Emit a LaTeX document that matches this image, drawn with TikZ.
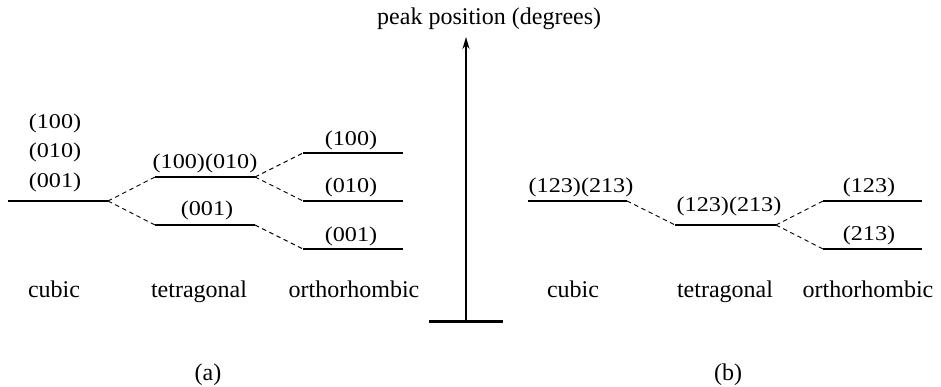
\documentclass[tikz,border=0pt]{standalone}
\usepackage{fontspec}
\setmainfont{Liberation Serif}
\newfontfamily\idxfont[FakeStretch=1.15]{Liberation Serif}
\usetikzlibrary{positioning, arrows.meta}
\tikzset{
  lvl/.style       = {line width=1.4pt},
  splitline/.style = {dash pattern=on 4.5pt off 3.5pt, line width=0.9pt},
  idx/.style       = {font=\idxfont\fontsize{21}{29.5}\selectfont,
                      inner sep=1pt, anchor=south, align=center},
  phase/.style     = {font=\fontsize{24}{28}\selectfont, anchor=base,
                      inner sep=0pt},
  axisarrow/.style = {-{Stealth[length=12pt,width=7pt]}, line width=1.5pt}
}

\begin{document}
\begin{tikzpicture}[x=1pt, y=-1pt]
  \useasboundingbox (0,0) rectangle (941,387);

  % (a) levels
  \coordinate (ac1) at (8,201);   \coordinate (ac2) at (108,201);
  \coordinate (at1) at (155,177); \coordinate (at2) at (255,177);
  \coordinate (at3) at (155,225); \coordinate (at4) at (255,225);
  \coordinate (ao1) at (303,153); \coordinate (ao2) at (403,153);
  \coordinate (ao3) at (303,201); \coordinate (ao4) at (403,201);
  \coordinate (ao5) at (303,249); \coordinate (ao6) at (403,249);

  \draw[lvl] (ac1) -- (ac2);
  \draw[lvl] (at1) -- (at2);
  \draw[lvl] (at3) -- (at4);
  \draw[lvl] (ao1) -- (ao2);
  \draw[lvl] (ao3) -- (ao4);
  \draw[lvl] (ao5) -- (ao6);

  \draw[splitline] (ac2) -- (at1);
  \draw[splitline] (ac2) -- (at3);
  \draw[splitline] (at2) -- (ao1);
  \draw[splitline] (at2) -- (ao3);
  \draw[splitline] (at4) -- (ao5);

  \node[idx] (acl)  at (55,193)  {(100)\\(010)\\(001)};
  \node[idx] (atl1) at (205,174) {(100)(010)};
  \node[idx] (atl2) at (207,221) {(001)};
  \node[idx] (aol1) at (351,151) {(100)};
  \node[idx] (aol2) at (351,198) {(010)};
  \node[idx] (aol3) at (351,247) {(001)};

  \node[phase] (acub) at (54,297)  {cubic};
  \node[phase] (atet) at (199,297) {tetragonal};
  \node[phase] (aort) at (354,297) {orthorhombic};
  \node[phase] (alab) at (208,380) {(a)};

  % axis
  \coordinate (axbot) at (466,321.5);
  \coordinate (axtop) at (466,37);
  \coordinate (axl)   at (429,321.5);
  \coordinate (axr)   at (503,321.5);
  \draw[axisarrow] (axbot) -- (axtop);
  \draw[line width=2.4pt] (axl) -- (axr);
  \node[phase, anchor=base west] (axlbl) at (377,25) {peak position (degrees)};

  % (b) levels
  \coordinate (bc1) at (528,201); \coordinate (bc2) at (627,201);
  \coordinate (bt1) at (675,225); \coordinate (bt2) at (776,225);
  \coordinate (bo1) at (823,201); \coordinate (bo2) at (922,201);
  \coordinate (bo3) at (823,249); \coordinate (bo4) at (922,249);

  \draw[lvl] (bc1) -- (bc2);
  \draw[lvl] (bt1) -- (bt2);
  \draw[lvl] (bo1) -- (bo2);
  \draw[lvl] (bo3) -- (bo4);

  \draw[splitline] (bc2) -- (bt1);
  \draw[splitline] (bt2) -- (bo1);
  \draw[splitline] (bt2) -- (bo3);

  \node[idx] (bcl)  at (581,198) {(123)(213)};
  \node[idx] (btl)  at (729,217) {(123)(213)};
  \node[idx] (bol1) at (869,198) {(123)};
  \node[idx] (bol2) at (869,246) {(213)};

  \node[phase] (bcub) at (573,297) {cubic};
  \node[phase] (btet) at (725,297) {tetragonal};
  \node[phase] (bort) at (868,297) {orthorhombic};
  \node[phase] (blab) at (728,380) {(b)};
\end{tikzpicture}
\end{document}
